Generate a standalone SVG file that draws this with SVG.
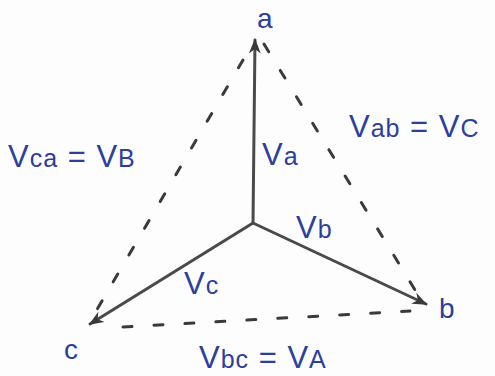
<svg xmlns="http://www.w3.org/2000/svg" width="495" height="376" viewBox="0 0 495 376">
<style>
.vec{stroke:#4a4a4a;stroke-width:3;fill:none;stroke-linecap:round}
.dash{stroke:#3a3a3a;stroke-width:3;fill:none;stroke-dasharray:9 22;stroke-linecap:round}
.lbl{font-family:"Liberation Sans",Arial,sans-serif;fill:#2c3f9c;font-size:31px;letter-spacing:1px}
.sub{font-size:25px}
.ltr{font-family:"Liberation Sans",Arial,sans-serif;fill:#2c3f9c;font-size:28px}
</style>
<defs>
<marker id="ah" viewBox="0 0 10 10" refX="9" refY="5" markerWidth="5" markerHeight="5" orient="auto" markerUnits="strokeWidth">
<path d="M0,1 L10,5 L0,9 L3,5 Z" fill="#3a3a3a"/>
</marker>
</defs>
<rect width="495" height="376" fill="#fdfdfd"/>
<g id="connectors">
<line class="vec" x1="253" y1="223" x2="255" y2="40" marker-end="url(#ah)"/>
<line class="vec" x1="253" y1="223" x2="426" y2="304" marker-end="url(#ah)"/>
<line class="vec" x1="253" y1="223" x2="90" y2="324" marker-end="url(#ah)"/>
<line class="dash" x1="243" y1="60" x2="95" y2="313"/>
<line class="dash" x1="264" y1="44" x2="420" y2="298"/>
<line class="dash" x1="123" y1="327" x2="410" y2="311"/>
</g>
<g id="node-a"><text class="ltr" x="257" y="28">a</text></g>
<g id="node-b"><text class="ltr" x="439" y="318">b</text></g>
<g id="node-c"><text class="ltr" x="64" y="359">c</text></g>
<g id="label-va"><text class="lbl" x="262" y="165">V<tspan class="sub">a</tspan></text></g>
<g id="label-vb"><text class="lbl" x="296" y="238">V<tspan class="sub">b</tspan></text></g>
<g id="label-vc"><text class="lbl" x="184" y="294">V<tspan class="sub">c</tspan></text></g>
<g id="label-vab"><text class="lbl" x="349" y="137">V<tspan class="sub">ab</tspan> = V<tspan class="sub">C</tspan></text></g>
<g id="label-vca"><text class="lbl" x="8" y="167">V<tspan class="sub">ca</tspan> = V<tspan class="sub">B</tspan></text></g>
<g id="label-vbc"><text class="lbl" x="199" y="368">V<tspan class="sub">bc</tspan> = V<tspan class="sub">A</tspan></text></g>
</svg>
